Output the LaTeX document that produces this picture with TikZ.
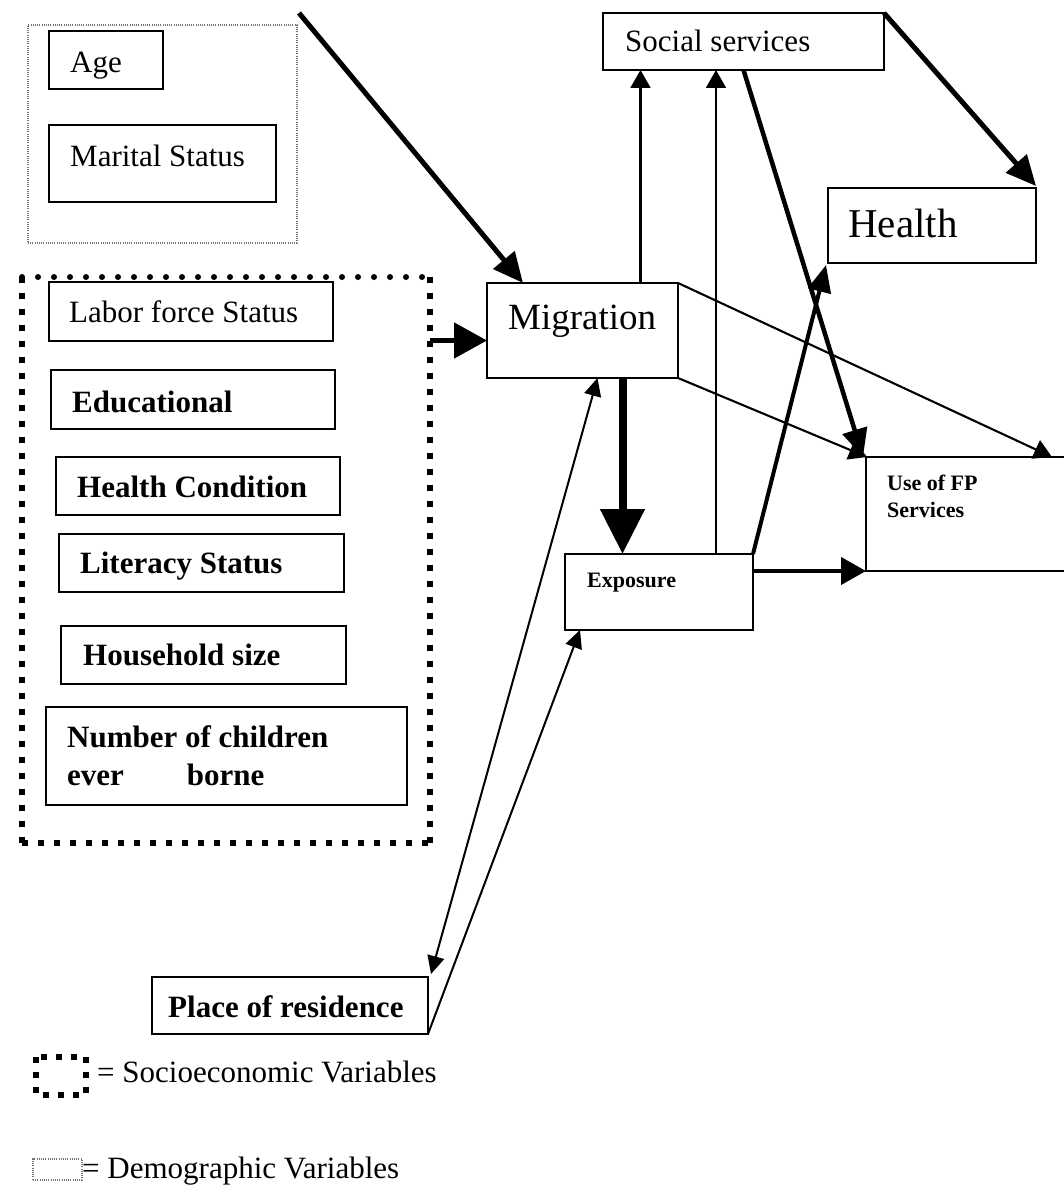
\documentclass[tikz,border=0pt]{standalone}
\usepackage{fontspec}
\setmainfont{Liberation Serif}
\usetikzlibrary{arrows.meta}
\begin{document}
\begin{tikzpicture}[x=1pt,y=-1pt,
  box/.style={draw=black, line width=1.9pt, rectangle, inner sep=0pt, outer sep=0pt, anchor=north west},
  frame/.style={rectangle, inner sep=0pt, outer sep=0pt, anchor=north west},
  txt/.style={anchor=base west, inner sep=0pt, font=\fontsize{31}{37}\selectfont},
  btxt/.style={anchor=base west, inner sep=0pt, font=\fontsize{31}{37}\selectfont\bfseries},
  stxt/.style={anchor=base west, inner sep=0pt, font=\fontsize{22}{26}\selectfont\bfseries},
  thinarr/.style={line width=2.1pt, -{Triangle[length=18pt,width=20pt]}},
  thickarr/.style={line width=5pt, -{Triangle[length=30pt,width=27pt]}},
  sqdots/.style={line width=6pt, dash pattern=on 6pt off 10pt},
  rddots/.style={line width=6pt, line cap=round, dash pattern=on 0pt off 16pt},
  finedots/.style={draw=black!55, line width=1.2pt, dash pattern=on 1pt off 1.2pt}
]
\useasboundingbox[fill=white] (0,0) rectangle (1064,1185);

% Demographic variables group
\node[frame, finedots, minimum width=269pt, minimum height=218pt] (demo) at (28,25) {};
\node[box, minimum width=114pt, minimum height=58pt] (age) at (49,31) {};
\node[txt] (ageT) at (70,73) {Age};
\node[box, minimum width=227pt, minimum height=77pt] (mar) at (49,125) {};
\node[txt] (marT) at (70,167) {Marital Status};

% Socioeconomic variables group
\node[frame, minimum width=408pt, minimum height=566pt] (socio) at (22,277) {};
\draw[sqdots] (socio.north west) -- (socio.south west);
\draw[sqdots] (socio.north east) -- (socio.south east);
\draw[sqdots] (socio.south west) -- (socio.south east);
\draw[rddots] (socio.north west) -- (socio.north east);

\node[box, minimum width=284pt, minimum height=59pt] (lab) at (49,282) {};
\node[txt] (labT) at (69,322) {Labor force Status};
\node[box, minimum width=284pt, minimum height=59pt] (edu) at (51,370) {};
\node[btxt] (eduT) at (72,412) {Educational};
\node[box, minimum width=284pt, minimum height=58pt] (hc) at (56,457) {};
\node[btxt] (hcT) at (77,497) {Health Condition};
\node[box, minimum width=285pt, minimum height=58pt] (lit) at (59,534) {};
\node[btxt] (litT) at (80,573) {Literacy Status};
\node[box, minimum width=285pt, minimum height=58pt] (hh) at (61,626) {};
\node[btxt] (hhT) at (83,665) {Household size};
\node[box, minimum width=361pt, minimum height=98pt] (nch) at (46,707) {};
\node[btxt] (nchT1) at (67,747) {Number of children};
\node[btxt] (nchT2) at (67,785) {ever\hspace{63pt}borne};

% Main boxes
\node[box, minimum width=281pt, minimum height=57pt] (soc) at (603,13) {};
\node[txt] (socT) at (625,52) {Social services};
\node[box, minimum width=208pt, minimum height=75pt] (hea) at (828,188) {};
\node[anchor=base west, inner sep=0pt, font=\fontsize{41}{48}\selectfont] (heaT) at (848,237) {Health};
\node[box, minimum width=191pt, minimum height=95pt] (mig) at (487,283) {};
\node[anchor=base west, inner sep=0pt, font=\fontsize{37}{44}\selectfont] (migT) at (508,329) {Migration};
\node[box, minimum width=188pt, minimum height=76pt] (exp) at (565,554) {};
\node[stxt] (expT) at (587,587) {Exposure};
\node[box, minimum width=215pt, minimum height=114pt] (fp) at (866,457) {};
\node[stxt] (fpT1) at (887,490) {Use of FP};
\node[stxt] (fpT2) at (887,517) {Services};
\node[box, minimum width=276pt, minimum height=57pt] (pla) at (152,977) {};
\node[btxt] (plaT) at (168,1017) {Place of residence};

% Connectors
\coordinate (src) at (299,13);
\draw[thickarr] (src) -- ([xshift=36pt]mig.north west);
\coordinate (m2) at ([yshift=-10pt]mig.west);
\draw[line width=5pt, -{Triangle[length=33pt,width=35pt]}] (socio.east |- m2) -- (m2);
\draw[thinarr] ([xshift=58pt]mig.north) -- ([xshift=58pt]mig.north |- soc.south);
\draw[thinarr] ([xshift=57pt]exp.north) -- ([xshift=57pt]exp.north |- soc.south);
\draw[line width=4.5pt, -{Triangle[length=28pt,width=25pt]}] (soc.south) -- ([xshift=-3pt]fp.north west);
\draw[thickarr] (soc.north east) -- ([yshift=2pt]hea.north east);
\draw[line width=4pt, -{Triangle[length=27pt,width=23pt]}] (exp.north east) -- ([xshift=-2pt,yshift=-2pt]hea.south west);
\draw[thinarr] (mig.south east) -- ([xshift=1pt]fp.north west);
\draw[thinarr] (mig.north east) -- ([xshift=186pt]fp.north west);
\draw[line width=8pt, -{Triangle[length=45pt,width=43pt]}] ([xshift=40pt]mig.south) -- ([xshift=40pt]mig.south |- exp.north);
\draw[line width=4pt, -{Triangle[length=25pt,width=27pt]}] (exp.east |- fp.south west) -- (fp.south west);
\draw[line width=2pt, {Triangle[length=18pt,width=17pt]}-{Triangle[length=18pt,width=17pt]}] ([xshift=15pt]mig.south) -- ([xshift=3pt,yshift=3pt]pla.north east);
\draw[line width=2pt, -{Triangle[length=18pt,width=17pt]}] (pla.south east) -- ([xshift=15pt]exp.south west);

% Legend
\node[frame, minimum width=50pt, minimum height=38pt] (legS) at (36,1057) {};
\draw[line width=6pt, dash pattern=on 6pt off 9pt] (legS.north west) rectangle (legS.south east);
\node[txt] (legST) at (97,1082) {= Socioeconomic Variables};
\node[frame, finedots, minimum width=49pt, minimum height=21pt] (legD) at (33,1159) {};
\node[txt] (legDT) at (82,1178) {= Demographic Variables};
\end{tikzpicture}
\end{document}
